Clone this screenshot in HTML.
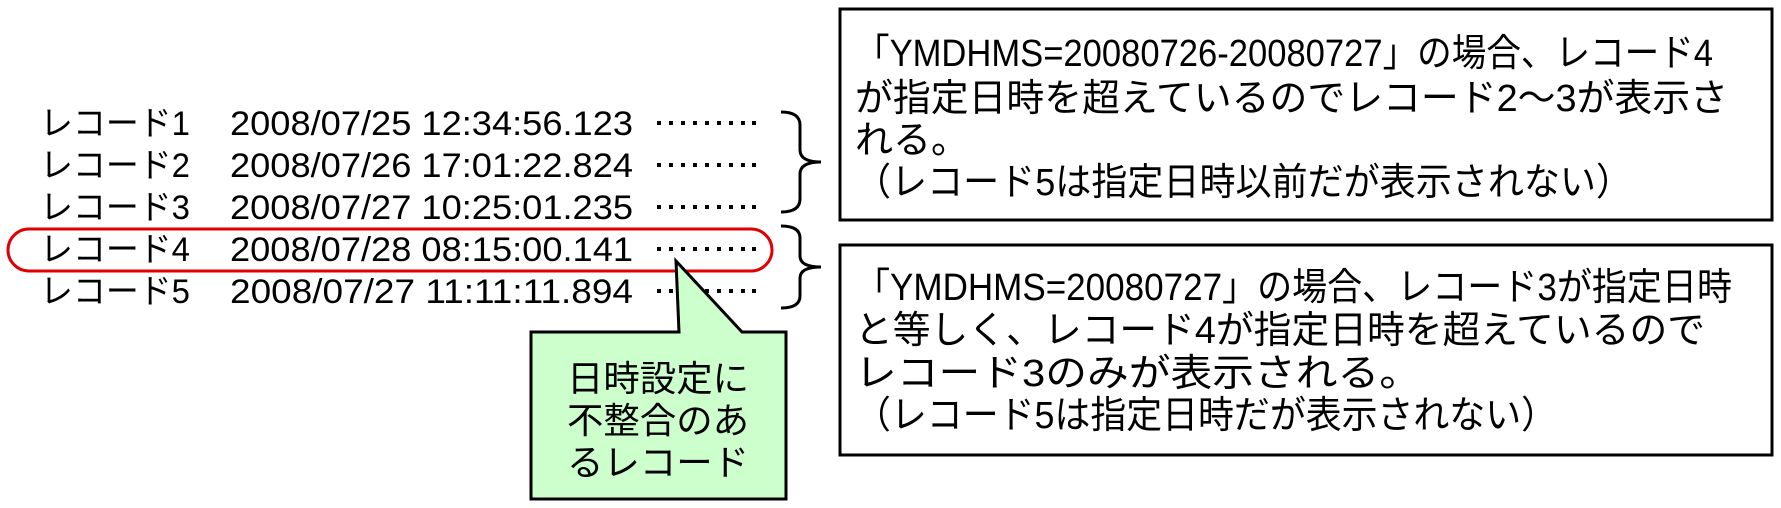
<!DOCTYPE html>
<html><head><meta charset="utf-8"><style>
html,body{margin:0;padding:0;background:#fff;}
svg{display:block;}
text{font-family:"Liberation Sans","Noto Sans CJK JP",sans-serif;fill:#000;}
</style></head><body>
<svg width="1781" height="508" viewBox="0 0 1781 508" xmlns="http://www.w3.org/2000/svg">
<defs>
<g id="d" fill="#000"><rect x="657" y="0" width="4" height="4"/><rect x="669" y="0" width="4" height="4"/><rect x="681" y="0" width="4" height="4"/><rect x="693" y="0" width="4" height="4"/><rect x="705" y="0" width="4" height="4"/><rect x="717" y="0" width="4" height="4"/><rect x="729" y="0" width="4" height="4"/><rect x="741" y="0" width="4" height="4"/><rect x="752" y="0" width="4" height="4"/></g>
</defs>
<g font-size="34">
<text x="40" y="135" textLength="150" lengthAdjust="spacingAndGlyphs">レコード1</text>
<text x="230" y="135" textLength="403" lengthAdjust="spacingAndGlyphs">2008/07/25 12:34:56.123</text>
<text x="40" y="177" textLength="150" lengthAdjust="spacingAndGlyphs">レコード2</text>
<text x="230" y="177" textLength="403" lengthAdjust="spacingAndGlyphs">2008/07/26 17:01:22.824</text>
<text x="40" y="219" textLength="150" lengthAdjust="spacingAndGlyphs">レコード3</text>
<text x="230" y="219" textLength="403" lengthAdjust="spacingAndGlyphs">2008/07/27 10:25:01.235</text>
<text x="40" y="261" textLength="150" lengthAdjust="spacingAndGlyphs">レコード4</text>
<text x="230" y="261" textLength="403" lengthAdjust="spacingAndGlyphs">2008/07/28 08:15:00.141</text>
<text x="40" y="303" textLength="150" lengthAdjust="spacingAndGlyphs">レコード5</text>
<text x="230" y="303" textLength="403" lengthAdjust="spacingAndGlyphs">2008/07/27 11:11:11.894</text>
</g>
<use href="#d" y="121"/><use href="#d" y="163"/><use href="#d" y="205"/><use href="#d" y="247"/><use href="#d" y="289"/>
<rect x="8" y="229" width="764" height="42" rx="21" fill="none" stroke="#e00000" stroke-width="3"/>
<path d="M781,112 Q800,112 800,125 L800,150 Q800,162 821,162 Q800,162 800,174 L800,199 Q800,212 781,212" fill="none" stroke="#000" stroke-width="3"/>
<path d="M781,226 Q800,226 800,238 L800,256 Q800,267 821,267 Q800,267 800,278 L800,296 Q800,308 781,308" fill="none" stroke="#000" stroke-width="3"/>
<path d="M531,332 L679,332 L676,261 L742,332 L786,332 L786,499 L531,499 Z" fill="#ccffcc" stroke="#000" stroke-width="3"/>
<g font-size="36" text-anchor="middle">
<text x="658" y="391" textLength="182" lengthAdjust="spacingAndGlyphs">日時設定に</text>
<text x="658" y="433" textLength="182" lengthAdjust="spacingAndGlyphs">不整合のあ</text>
<text x="658" y="475" textLength="182" lengthAdjust="spacingAndGlyphs">るレコード</text>
</g>
<rect x="840" y="9" width="932" height="211" fill="none" stroke="#000" stroke-width="3"/>
<rect x="840" y="245" width="932" height="210" fill="none" stroke="#000" stroke-width="3"/>
<g font-size="38">
<text x="855" y="66" textLength="858" lengthAdjust="spacingAndGlyphs">「YMDHMS=20080726-20080727」の場合、レコード4</text>
<text x="855" y="111" textLength="873" lengthAdjust="spacingAndGlyphs">が指定日時を超えているのでレコード2～3が表示さ</text>
<text x="855" y="153" textLength="114" lengthAdjust="spacingAndGlyphs">れる。</text>
<text x="855" y="195" textLength="777" lengthAdjust="spacingAndGlyphs">（レコード5は指定日時以前だが表示されない）</text>
<text x="855" y="300" textLength="877" lengthAdjust="spacingAndGlyphs">「YMDHMS=20080727」の場合、レコード3が指定日時</text>
<text x="855" y="343" textLength="850" lengthAdjust="spacingAndGlyphs">と等しく、レコード4が指定日時を超えているので</text>
<text x="855" y="386" textLength="566" lengthAdjust="spacingAndGlyphs">レコード3のみが表示される。</text>
<text x="855" y="428" textLength="702" lengthAdjust="spacingAndGlyphs">（レコード5は指定日時だが表示されない）</text>
</g>
</svg>
</body></html>
